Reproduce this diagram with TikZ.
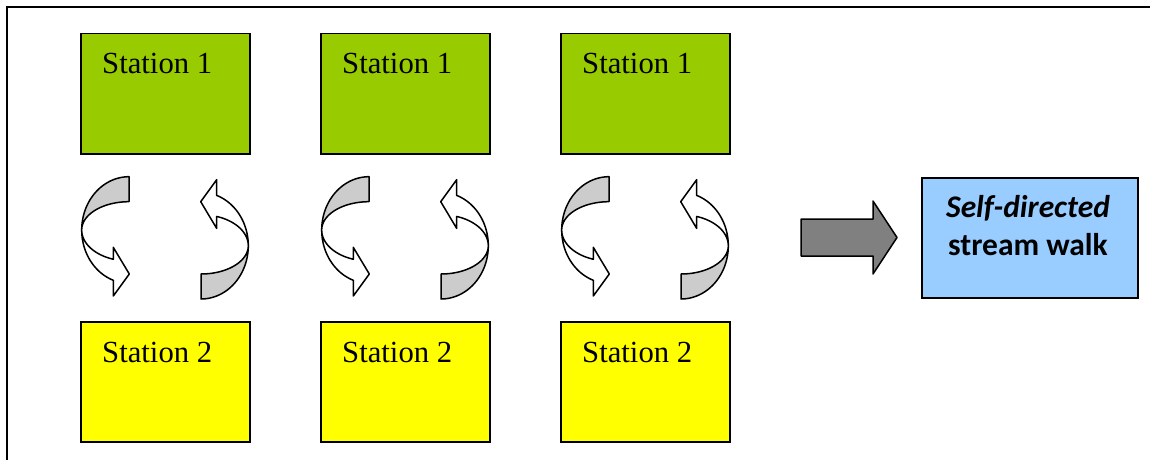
\documentclass[tikz,border=0pt]{standalone}
\usepackage{fontspec}
\setmainfont{Liberation Serif}
\newfontfamily\calib{Carlito}
\usetikzlibrary{calc}
\definecolor{stgreen}{HTML}{99CC00}
\definecolor{styellow}{HTML}{FFFF00}
\definecolor{walkblue}{HTML}{99CCFF}
\definecolor{bandgray}{HTML}{CCCCCC}
\definecolor{arrgray}{HTML}{808080}
\tikzset{
  stbox/.style={draw=black, line width=1.5pt, minimum width=169pt, minimum height=120pt, anchor=north west, inner sep=0pt},
  sttext/.style={anchor=base west, inner sep=0pt, font=\fontsize{30.7}{36}\selectfont},
  outl/.style={draw=black, line width=1.5pt, line join=round},
  pics/curvarr/.style={code={
    \path[outl, fill=bandgray]
      plot[domain=270:180, variable=\t, samples=40, smooth] ({47.3*cos(\t)},{53.3*sin(\t)})
      -- plot[domain=180:270, variable=\t, samples=40, smooth] ({47.3*cos(\t)},{28.3*sin(\t)})
      -- cycle;
    \path[outl, fill=white]
      plot[domain=180:109.4, variable=\t, samples=40, smooth] ({47.3*cos(\t)},{53.3*sin(\t)})
      -- (-15.7,66) -- (0.3,44) -- (-15.7,17.3)
      -- plot[domain=109.4:180, variable=\t, samples=40, smooth] ({47.3*cos(\t)},{31*sin(\t)})
      -- cycle;
  }}
}
\begin{document}
\begin{tikzpicture}[x=1pt,y=-1pt]
\useasboundingbox (0,0) rectangle (1150,460);
\draw[line width=2pt] (7,460) -- (7,7.5) -- (1150,7.5);
\foreach \i/\dx in {1/0,2/240,3/480}{
  \node[stbox, fill=stgreen] (sa\i) at (80+\dx,33) {};
  \node[sttext] (ta\i) at ($(sa\i.north west)+(22,41)$) {Station 1};
  \node[stbox, fill=styellow] (sb\i) at (80+\dx,321) {};
  \node[sttext] (tb\i) at ($(sb\i.north west)+(22,41)$) {Station 2};
  \pic at (129+\dx,230) {curvarr};
  \pic[rotate=180] at (201+\dx,245.7) {curvarr};
}
\node[draw=black, line width=1.5pt, fill=walkblue, minimum width=216pt, minimum height=120pt, anchor=north west, inner sep=0pt] (walk) at (921,177) {};
\node[inner sep=0pt, align=center, font=\calib\bfseries\fontsize{31.5}{38}\selectfont, anchor=base] (walktext) at (1028,255) {\itshape Self-directed\\stream walk};
\path[outl, fill=arrgray] (801,219) -- (873,219) -- (873,201) -- (897,237.5) -- (873,274) -- (873,256) -- (801,256) -- cycle;
\end{tikzpicture}
\end{document}
